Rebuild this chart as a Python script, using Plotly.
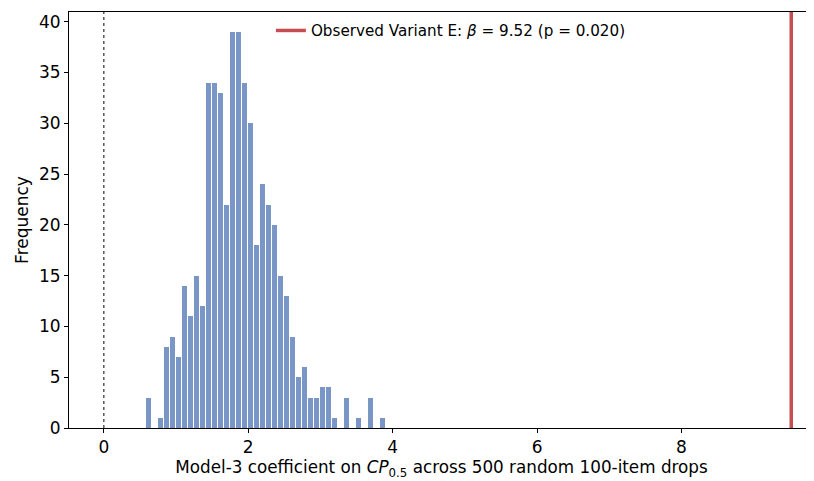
import plotly.graph_objects as go

# Histogram data (40 equal-width bins)
bin_start = 0.578
bin_width = 0.0831
counts = [3, 0, 1, 8, 9, 7, 14, 11, 15, 12,
          34, 34, 33, 22, 39, 39, 34, 30, 18, 24,
          22, 20, 15, 13, 9, 5, 6, 3, 3, 4,
          4, 1, 0, 3, 0, 1, 0, 3, 0, 1]
observed_beta = 9.52
observed_p = 0.020
null_value = 0.0
y_ticks = [0, 5, 10, 15, 20, 25, 30, 35, 40]
x_ticks = [0, 2, 4, 6, 8]

centers = [bin_start + bin_width * (i + 0.5) for i in range(len(counts))]
y_max = max(counts) * 1.05

fig = go.Figure()
fig.add_trace(go.Bar(
    x=centers, y=counts, width=bin_width * 0.74,
    marker=dict(color="#7a96c6", line=dict(width=0)),
    showlegend=False, hoverinfo="x+y"))
fig.add_trace(go.Scatter(
    x=[null_value, null_value], y=[0, y_max], mode="lines",
    line=dict(color="black", width=1, dash="dot"), showlegend=False))
fig.add_trace(go.Scatter(
    x=[observed_beta, observed_beta], y=[0, y_max], mode="lines",
    line=dict(color="#c44e52", width=3.5),
    name=f"Observed Variant E: <i>β</i> = {observed_beta:.2f} (p = {observed_p:.3f})"))

font = "DejaVu Sans, sans-serif"
fig.update_layout(
    width=806, height=473,
    margin=dict(l=61, r=0, t=4, b=53),
    plot_bgcolor="white", paper_bgcolor="white",
    font=dict(family=font, size=17, color="black"),
    bargap=0,
    legend=dict(x=0.271, y=0.995, xanchor="left", yanchor="top",
                bgcolor="rgba(0,0,0,0)", font=dict(size=15.2, family=font)),
    xaxis=dict(range=[-0.483, 9.835], tickvals=x_ticks, ticks="outside",
               ticklen=4, tickwidth=1, tickcolor="black",
               showline=True, linecolor="black", linewidth=1, mirror=True,
               showgrid=False, zeroline=False,
               title=dict(text="Model-3 coefficient on <i>CP</i><sub>0.5</sub> across 500 random 100-item drops",
                          font=dict(size=16.8), standoff=4)),
    yaxis=dict(range=[0, y_max], tickvals=y_ticks, ticks="outside",
               ticklen=4, tickwidth=1, tickcolor="black",
               showline=True, linecolor="black", linewidth=1,
               showgrid=False, zeroline=False,
               title=dict(text="Frequency", font=dict(size=17), standoff=6)),
)

fig.write_html("out.html")
